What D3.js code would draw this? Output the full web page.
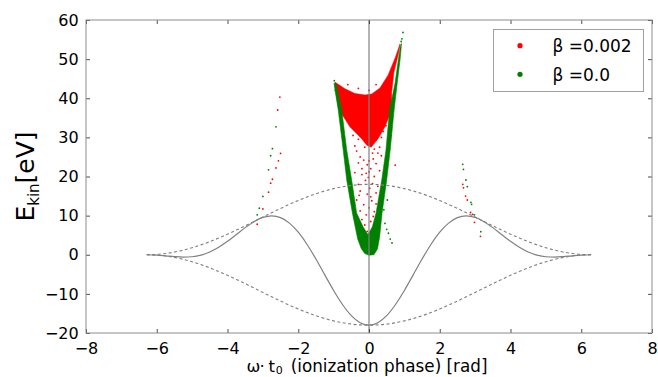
<!DOCTYPE html>
<html><head><meta charset="utf-8">
<script src="https://cdn.jsdelivr.net/npm/d3@7/dist/d3.min.js"></script>
<style>body{margin:0;background:#fff}svg{display:block}</style>
</head><body><svg id="c" width="658" height="377"></svg>
<script>
// ---------- data ----------
const xTicks = [-8,-6,-4,-2,0,2,4,6,8];
const yTicks = [-20,-10,0,10,20,30,40,50,60];
const legendLabels = ["β =0.002", "β =0.0"];

const curveX = [-6.283,-6,-5.75,-5.5,-5.25,-5,-4.75,-4.5,-4.25,-4,-3.75,-3.5,-3.25,-3,-2.75,-2.5,-2.25,-2,-1.75,-1.5,-1.25,-1,-0.75,-0.5,-0.25,
  0,0.25,0.5,0.75,1,1.25,1.5,1.75,2,2.25,2.5,2.75,3,3.25,3.5,3.75,4,4.25,4.5,4.75,5,5.25,5.5,5.75,6,6.283];
const solidY = [0,-0.09,-0.27,-0.48,-0.60,-0.51,-0.10,0.71,1.91,3.44,5.17,6.93,8.46,9.54,9.94,9.48,8.09,5.77,2.63,-1.10,-5.14,-9.13,-12.71,-15.55,-17.37,
  -18,-17.37,-15.55,-12.71,-9.13,-5.14,-1.10,2.63,5.77,8.09,9.48,9.94,9.54,8.46,6.93,5.17,3.44,1.91,0.71,-0.10,-0.51,-0.60,-0.48,-0.27,-0.09,0];
const envUpperY = [0,0.09,0.32,0.68,1.18,1.79,2.52,3.35,4.28,5.26,6.30,7.40,8.51,9.64,10.75,11.84,12.88,13.86,14.77,15.59,16.30,16.90,17.38,17.72,17.93,
  18,17.93,17.72,17.38,16.90,16.30,15.59,14.77,13.86,12.88,11.84,10.75,9.64,8.51,7.40,6.30,5.26,4.28,3.35,2.52,1.79,1.18,0.68,0.32,0.09,0];
const envLowerY = [0,-0.09,-0.32,-0.68,-1.18,-1.79,-2.52,-3.35,-4.28,-5.26,-6.30,-7.40,-8.51,-9.64,-10.75,-11.84,-12.88,-13.86,-14.77,-15.59,-16.30,-16.90,-17.38,-17.72,-17.93,
  -18,-17.93,-17.72,-17.38,-16.90,-16.30,-15.59,-14.77,-13.86,-12.88,-11.84,-10.75,-9.64,-8.51,-7.40,-6.30,-5.26,-4.28,-3.35,-2.52,-1.79,-1.18,-0.68,-0.32,-0.09,0];

// dense cloud outlines (beta = 0.002 red, beta = 0.0 green)
const redCloud = [[-0.96,44.1],[-0.68,42.4],[-0.40,41.2],[-0.11,40.8],[0.08,41.1],[0.31,42.6],[0.54,45.9],[0.74,50.3],[0.88,53.9],
  [0.82,51.0],[0.70,46.5],[0.64,41.5],[0.64,37.0],[0.45,32.7],[0.25,29.6],[0.06,27.5],[-0.06,28.0],[-0.22,29.8],[-0.54,32.7],[-0.84,37.0],[-0.92,40.5]];
const greenCloud = [[-0.99,43.8],[-0.87,37.0],[-0.73,26.8],[-0.63,19.1],[-0.47,10.7],[-0.32,4.0],[-0.22,1.6],[-0.12,0.3],[0.0,-0.1],[0.14,0.0],[0.24,1.5],
  [0.30,4.5],[0.37,10.7],[0.50,19.1],[0.60,26.8],[0.71,37.0],[0.80,44.0],[0.88,50.0],[0.92,54.0],[0.88,53.0],[0.80,48.0],[0.74,44.0],[0.58,37.0],
  [0.48,26.8],[0.36,19.1],[0.20,10.7],[0.09,7.0],[-0.03,5.2],[-0.16,7.0],[-0.35,10.7],[-0.49,19.1],[-0.63,26.8],[-0.77,37.0],[-0.93,43.8]];

// sparse points
const redX = [-0.35,-0.25,-0.15,0.12,0.25,0.35,-0.05,0.05,0.2,-0.3,-0.4,-0.2,0.0,0.15,0.3,-0.1,0.1,-0.3,0.25,0.02,
  -0.25,-0.05,0.2,0.35,-0.35,0.08,-0.15,0.28,0.0,-0.25,0.15,-0.08,0.22,-0.2,0.05,0.3,-0.12,0.1,-0.05,0.18,0.02,-0.1,0.12,
  -0.45,-0.3,0.35,0.15,-0.12,0.4,-0.4,0.3,0.0,-0.2,0.1,-0.02,0.2,-0.28,0.12,-0.18,0.05,-0.08,
  -0.3,0.0,-0.6,0.2,-0.82,
  0.74,0.62,0.55,-0.7,0.48,0.42,
  -2.52,-2.58,-2.50,-2.56,-2.63,-2.73,-2.78,-2.84,-3.00,-3.16,
  2.65,2.67,2.73,2.78,2.87,2.93,2.98,3.15];
const redY = [26.5,25.0,24.2,24.5,26.0,25.3,23.0,22.0,23.3,23.5,21.0,20.5,21.2,20.0,21.5,19.0,18.2,18.0,17.5,17.0,
  16.3,15.5,15.8,14.5,14.0,13.8,12.8,12.5,12.0,11.2,11.0,10.2,9.5,9.0,8.5,8.2,7.6,6.8,6.0,5.2,4.2,3.5,3.2,
  30.5,29.5,30.0,27.0,27.5,31.5,27.8,27.5,24.0,22.0,26.0,19.8,13.0,15.2,9.8,5.5,14.8,20.8,
  42.5,42.0,43.5,43.5,41.5,
  22.9,30.5,28.0,30.0,33.0,18.0,
  40.3,37.0,25.9,24.0,22.2,19.3,18.3,16.0,11.7,7.8,
  18.0,17.1,15.0,14.0,10.8,10.3,8.3,4.7];
const greenX = [0.96,0.93,0.91,0.55,0.6,0.5,0.45,0.65,0.42,0.52,-0.98,-0.95,
  -2.63,-2.73,-2.78,-2.84,-3.00,-3.10,-3.16,
  2.65,2.67,2.74,2.78,2.88,2.90,2.98,3.16];
const greenY = [56.8,55.2,54.5,5.5,4.0,6.5,8.0,3.0,11.5,14.0,44.5,42.0,
  32.7,27.1,25.3,21.7,14.9,11.9,10.2,
  23.1,21.8,19.1,17.4,13.4,12.9,10.2,5.9];

const colors = ["#ff0000", "#008000"];

// ---------- chart ----------
const svg = d3.select("#c");
const FONT = "DejaVu Sans, sans-serif";
const x = d3.scaleLinear().domain([-8, 8]).range([86, 652]);
const y = d3.scaleLinear().domain([-20, 60]).range([333, 20]);

const plot = svg.append("g");
plot.append("clipPath").attr("id","clip").append("rect")
  .attr("x",86).attr("y",20).attr("width",566).attr("height",313);
const g = plot.append("g").attr("clip-path","url(#clip)");

// clouds: red first, green on top
const poly = d3.line().x(d => x(d[0])).y(d => y(d[1])).curve(d3.curveLinearClosed);
g.append("path").attr("d", poly(redCloud)).attr("fill", colors[0]).attr("stroke", colors[0]).attr("stroke-width", 1).attr("stroke-opacity",0.6);
g.selectAll("circle.r").data(redX.map((v,i)=>[v, redY[i]])).join("circle")
  .attr("class","r").attr("cx",d=>x(d[0])).attr("cy",d=>y(d[1])).attr("r",0.9).attr("fill",colors[0]);
g.append("path").attr("d", poly(greenCloud)).attr("fill", colors[1]).attr("stroke", colors[1]).attr("stroke-width", 0.8).attr("stroke-opacity",0.7);
g.selectAll("circle.g").data(greenX.map((v,i)=>[v, greenY[i]])).join("circle")
  .attr("class","g").attr("cx",d=>x(d[0])).attr("cy",d=>y(d[1])).attr("r",0.9).attr("fill",colors[1]);

// curves
const ln = d3.line().x((d,i) => x(curveX[i])).y(d => y(d)).curve(d3.curveMonotoneX);
g.append("path").attr("d", ln(solidY)).attr("fill","none").attr("stroke","#808080").attr("stroke-width",1.2);
[envUpperY, envLowerY].forEach(arr => {
  g.append("path").attr("d", ln(arr)).attr("fill","none").attr("stroke","#808080")
    .attr("stroke-width",1.1).attr("stroke-dasharray","3,2.5");
});
// vertical line at x = 0
g.append("line").attr("x1",x(0)).attr("x2",x(0)).attr("y1",y(60)).attr("y2",y(-20))
  .attr("stroke","#808080").attr("stroke-width",1.2);

// axes
function styleAxis(sel, labels) {
  sel.select(".domain").remove();
  sel.selectAll(".tick line").attr("stroke","#222").attr("stroke-width",0.8);
  sel.selectAll(".tick text").attr("font-family",FONT).attr("font-size",16).attr("fill","#000");
  if (!labels) sel.selectAll(".tick text").remove();
}
svg.append("g").attr("transform","translate(0,333)")
  .call(d3.axisBottom(x).tickValues(xTicks).tickSize(-4).tickPadding(9.5)).call(s=>styleAxis(s,true));
svg.append("g").attr("transform","translate(0,20)")
  .call(d3.axisTop(x).tickValues(xTicks).tickSize(-4)).call(s=>styleAxis(s,false));
svg.append("g").attr("transform","translate(86,0)")
  .call(d3.axisLeft(y).tickValues(yTicks).tickSize(-4).tickPadding(7.3)).call(s=>styleAxis(s,true));
svg.append("g").attr("transform","translate(652,0)")
  .call(d3.axisRight(y).tickValues(yTicks).tickSize(-4)).call(s=>styleAxis(s,false));
svg.append("rect").attr("x",86).attr("y",20).attr("width",566).attr("height",313)
  .attr("fill","none").attr("stroke","#8c8c8c").attr("stroke-width",1);

// axis labels
const xl = svg.append("text").attr("font-family",FONT).attr("font-size",16.5).attr("y",372);
xl.append("tspan").attr("x",246.5).text("ω");
xl.append("tspan").attr("x",259.5).text("·");
xl.append("tspan").attr("x",268.5).text("t");
xl.append("tspan").attr("x",275.8).attr("dy",2).attr("font-size",11).text("0");
svg.append("text").attr("font-family",FONT).attr("font-size",16.8).attr("x",290.7).attr("y",372)
  .text("(ionization phase) [rad]");

const yl = svg.append("text").attr("font-family",FONT).attr("text-anchor","middle")
  .attr("transform","translate(33.5,176.5) rotate(-90)");
yl.append("tspan").attr("font-size",25).text("E");
yl.append("tspan").attr("font-size",15).attr("dy",5).text("kin");
yl.append("tspan").attr("font-size",25).attr("dy",-5).text("[eV]");

// legend
const lg = svg.append("g");
lg.append("rect").attr("x",493.5).attr("y",29.5).attr("width",150).attr("height",62)
  .attr("fill","#fff").attr("stroke","#a0a0a0").attr("stroke-width",1);
legendLabels.forEach((t,i) => {
  const cy = 45.7 + i*28.6;
  lg.append("circle").attr("cx",520).attr("cy",cy).attr("r",2.6).attr("fill",colors[i]);
  lg.append("text").attr("x",552.5).attr("y",cy+6.2).attr("font-family",FONT).attr("font-size",17).text(t);
});
</script>
</body></html>
